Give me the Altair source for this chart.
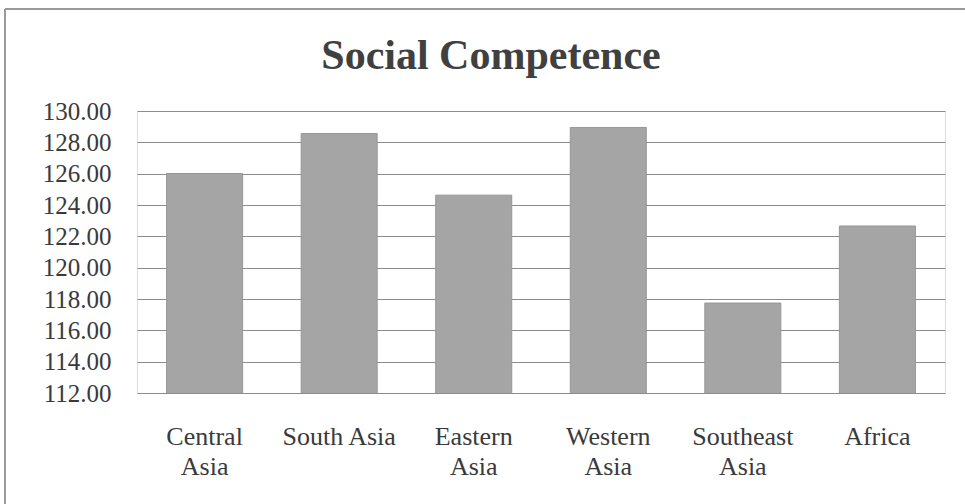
import altair as alt
import pandas as pd

# Mean social competence score by region
regions = ["Central Asia", "South Asia", "Eastern Asia", "Western Asia", "Southeast Asia", "Africa"]
scores = [126.01, 128.56, 124.63, 128.95, 117.74, 122.66]

y_ticks = [112, 114, 116, 118, 120, 122, 124, 126, 128, 130]

df = pd.DataFrame({"region": regions, "score": scores})

FONT = "Liberation Serif"
W, H = 808, 282

bars = alt.Chart(df).mark_bar(
    color="#a5a5a5", stroke="#969696", strokeWidth=1, clip=True
).encode(
    x=alt.X(
        "region:N",
        sort=regions,
        title=None,
        scale=alt.Scale(paddingInner=0.435, paddingOuter=0.22),
        axis=alt.Axis(
            labelAngle=0,
            labelFont=FONT,
            labelFontSize=26,
            labelColor="#3a3a3a",
            labelPadding=30,
            labelLineHeight=30,
            labelBaseline="top",
            ticks=False,
            domain=False,
            grid=False,
            labelExpr="datum.label == 'South Asia' || datum.label == 'Africa' ? datum.label : split(datum.label, ' ')",
        ),
    ),
    y=alt.Y(
        "score:Q",
        title=None,
        scale=alt.Scale(domain=[112, 130], nice=False, zero=False),
        axis=alt.Axis(
            values=y_ticks,
            format=".2f",
            labelFont=FONT,
            labelFontSize=25,
            labelColor="#3a3a3a",
            labelPadding=26,
            ticks=False,
            domain=False,
            grid=True,
            gridColor="#8c8c8c",
            gridWidth=1.2,
        ),
    ),
)

# Outer frame lines (top and left edge of the chart box)
frame_top = alt.Chart(df).mark_rule(color="#9a9a9a", strokeWidth=1.5).encode(
    x=alt.value(-132), x2=alt.value(830), y=alt.value(-102)
)
frame_left = alt.Chart(df).mark_rule(color="#9a9a9a", strokeWidth=1.5).encode(
    x=alt.value(-132), y=alt.value(-102), y2=alt.value(395)
)

chart = alt.layer(frame_top, frame_left, bars).properties(
    width=W,
    height=H,
    title=alt.TitleParams(
        "Social Competence",
        font=FONT,
        fontSize=42,
        fontWeight="bold",
        color="#404040",
        anchor="middle",
        frame="group",
        dx=-50,
        baseline="alphabetic",
        offset=-103,
    ),
    autosize=alt.AutoSizeParams(type="none"),
    padding={"left": 137, "top": 111, "right": 20, "bottom": 111},
).configure_view(stroke="transparent", strokeWidth=0).configure(background="white")

chart.save("out.html", embed_options={"renderer": "svg", "actions": False})
